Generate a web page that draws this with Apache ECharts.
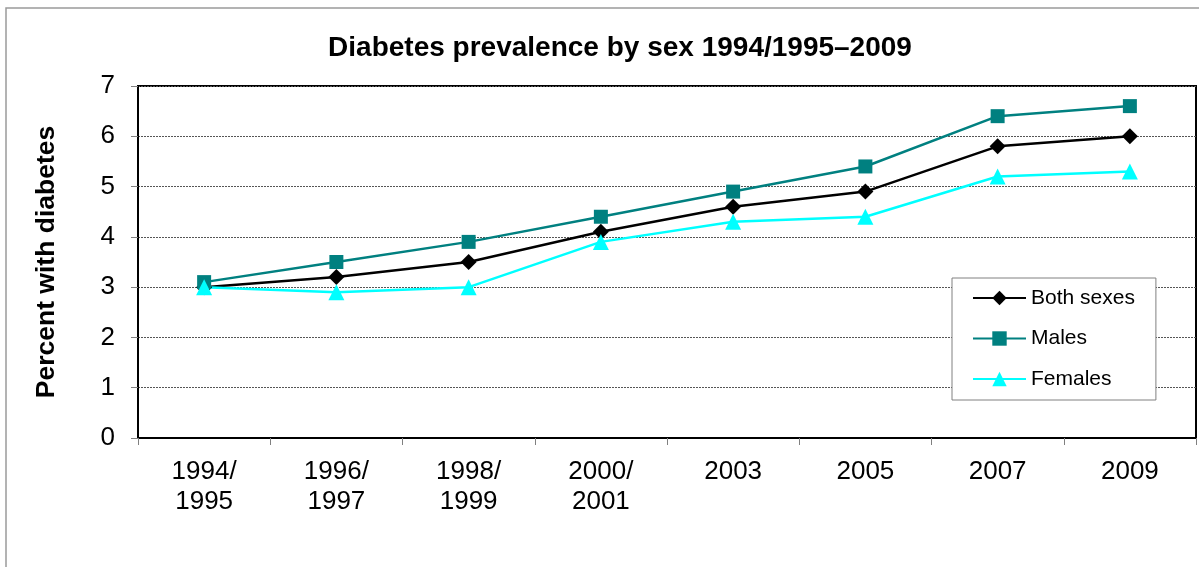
<!DOCTYPE html>
<html>
<head>
<meta charset="utf-8">
<script src="https://cdn.jsdelivr.net/npm/echarts@6/dist/echarts.min.js"></script>
<style>
  html, body { margin: 0; padding: 0; background: #fff; }
  #chart { width: 1199px; height: 567px; }
</style>
</head>
<body>
<div id="chart"></div>
<script>
// Survey periods on the horizontal axis
const categories = ['1994/\n1995', '1996/\n1997', '1998/\n1999', '2000/\n2001', '2003', '2005', '2007', '2009'];
// Percent with diabetes, by group
const bothSexes = [3.0, 3.2, 3.5, 4.1, 4.6, 4.9, 5.8, 6.0];
const males     = [3.1, 3.5, 3.9, 4.4, 4.9, 5.4, 6.4, 6.6];
const females   = [3.0, 2.9, 3.0, 3.9, 4.3, 4.4, 5.2, 5.3];
const yTicks = [0, 1, 2, 3, 4, 5, 6, 7];

const FONT = "'Liberation Sans', Arial, sans-serif";
const chart = echarts.init(document.getElementById('chart'), null, { renderer: 'canvas' });

function lineSeries(name, data, color, symbol, size) {
  return {
    name: name,
    type: 'line',
    data: data,
    symbol: symbol,
    symbolSize: size,
    showAllSymbol: true,
    lineStyle: { color: color, width: 2.5 },
    itemStyle: { color: color },
    emphasis: { disabled: true },
    animation: false,
    z: 3
  };
}

chart.setOption({
  animation: false,
  backgroundColor: '#fff',
  textStyle: { fontFamily: FONT },
  graphic: [
    {
      type: 'rect',
      shape: { x: 6, y: 8, width: 1250, height: 620 },
      style: { fill: 'none', stroke: '#9a9a9a', lineWidth: 1.5 },
      silent: true, z: -1
    },
    {
      type: 'text',
      x: 620, y: 48,
      style: {
        text: 'Diabetes prevalence by sex 1994/1995\u20132009',
        font: 'bold 28px ' + FONT,
        fill: '#000',
        textAlign: 'center',
        textVerticalAlign: 'middle'
      },
      silent: true
    }
  ],
  grid: {
    left: 138, right: 3, top: 86, bottom: 129,
    show: true, borderColor: '#000', borderWidth: 2, backgroundColor: 'transparent'
  },
  legend: {
    data: ['Both sexes', 'Males', 'Females'],
    orient: 'vertical',
    left: 952, top: 278,
    padding: [8, 21, 9, 20],
    itemWidth: 53, itemHeight: 18, itemGap: 16.5,
    backgroundColor: '#fff',
    borderColor: '#808080', borderWidth: 1,
    textStyle: { fontFamily: FONT, fontSize: 21, color: '#000', lineHeight: 24 },
    selectedMode: false,
    z: 10
  },
  xAxis: {
    type: 'category',
    data: categories,
    boundaryGap: true,
    axisLine: { show: true, lineStyle: { color: '#000', width: 2 } },
    axisTick: { show: true, interval: 0, length: 7, lineStyle: { color: '#808080', width: 1 } },
    axisLabel: { interval: 0, fontSize: 26, lineHeight: 30, color: '#000', margin: 19, fontFamily: FONT },
    splitLine: { show: false }
  },
  yAxis: {
    type: 'value',
    min: yTicks[0], max: yTicks[yTicks.length - 1], interval: 1,
    name: 'Percent with diabetes',
    nameLocation: 'middle',
    nameRotate: 90,
    nameGap: 78,
    nameTextStyle: { fontFamily: FONT, fontSize: 26.5, fontWeight: 'bold', color: '#000' },
    axisLine: { show: true, lineStyle: { color: '#000', width: 2 } },
    axisTick: { show: true, length: 7, lineStyle: { color: '#808080', width: 1 } },
    axisLabel: { fontSize: 26, color: '#000', margin: 23, padding: [4, 0, 0, 0], fontFamily: FONT },
    splitLine: { show: true, lineStyle: { color: '#555', width: 1, type: [2, 1] } }
  },
  series: [
    lineSeries('Both sexes', bothSexes, '#000000', 'diamond', [16, 16]),
    lineSeries('Males', males, '#008080', 'rect', 14),
    lineSeries('Females', females, '#00FFFF', 'triangle', 16)
  ]
});
</script>
</body>
</html>
